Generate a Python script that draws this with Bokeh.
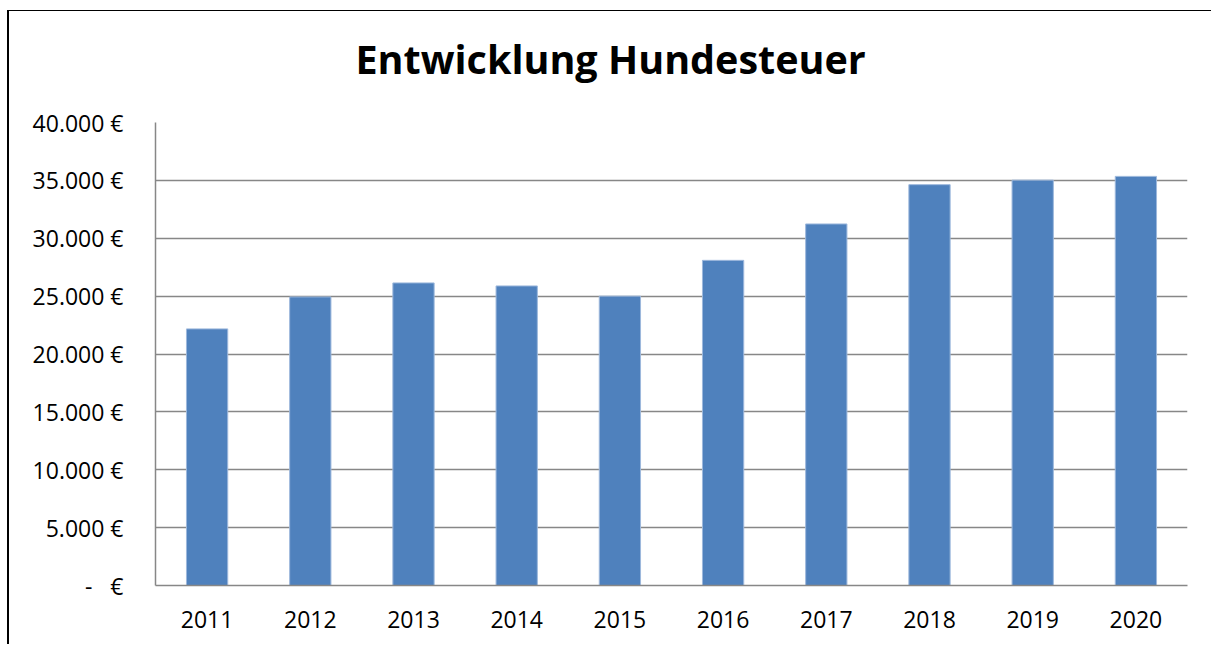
from bokeh.plotting import figure
from bokeh.models import FactorRange, Range1d, FixedTicker, ColumnDataSource
from bokeh.embed import file_html
from bokeh.resources import INLINE

# ---- data ----
years = ["2011", "2012", "2013", "2014", "2015", "2016", "2017", "2018", "2019", "2020"]
values = [22170, 24930, 26140, 25880, 25000, 28090, 31235, 34630, 35020, 35345]
y_ticks = [0, 5000, 10000, 15000, 20000, 25000, 30000, 35000, 40000]
y_tick_labels = ["-\u00a0\u00a0\u00a0\u20ac", "5.000 \u20ac", "10.000 \u20ac", "15.000 \u20ac",
                 "20.000 \u20ac", "25.000 \u20ac", "30.000 \u20ac", "35.000 \u20ac", "40.000 \u20ac"]
title_text = "Entwicklung Hundesteuer"

source = ColumnDataSource(data=dict(year=years, value=values))

p = figure(
    x_range=FactorRange(*years, range_padding=0),
    y_range=Range1d(0, 40000),
    width=1204, height=634,
    output_backend="svg", toolbar_location=None,
    min_border_left=146, min_border_right=26,
    min_border_top=111, min_border_bottom=60,
)
p.styles = {"margin-top": "10px", "margin-left": "7px",
            "border-top": "1px solid black", "border-left": "2px solid black"}

p.vbar(x="year", top="value", width=0.4, source=source,
       fill_color="#4F81BD", line_color="#9DB8DC", line_width=1)

p.title.text = title_text
p.title.text_font = "Open Sans"
p.title.text_font_style = "bold"
p.title.text_font_size = "39.5px"
p.title.text_color = "black"
p.title.align = "left"
p.title.offset = 200
p.title.standoff = 34
p.title.padding = dict(left=0, right=0, top=0, bottom=20)

p.outline_line_color = None
p.background_fill_color = "white"
p.border_fill_color = "white"

p.xgrid.grid_line_color = None
p.ygrid.ticker = FixedTicker(ticks=y_ticks)
p.ygrid.grid_line_color = "#878787"
p.ygrid.grid_line_width = 1.5

p.yaxis.ticker = FixedTicker(ticks=y_ticks)
p.yaxis.major_label_overrides = {t: l for t, l in zip(y_ticks, y_tick_labels)}
for ax in (p.xaxis[0], p.yaxis[0]):
    ax.axis_line_color = "#878787"
    ax.axis_line_width = 1.5
    ax.major_tick_in = 0
    ax.major_tick_out = 0
    ax.minor_tick_line_color = None
    ax.major_tick_line_color = None
    ax.major_label_text_font = "Open Sans"
    ax.major_label_text_font_size = "23px"
    ax.major_label_text_color = "black"
p.yaxis.major_label_standoff = 32
p.xaxis.major_label_standoff = 25

open("out.html", "w").write(file_html(p, INLINE))
